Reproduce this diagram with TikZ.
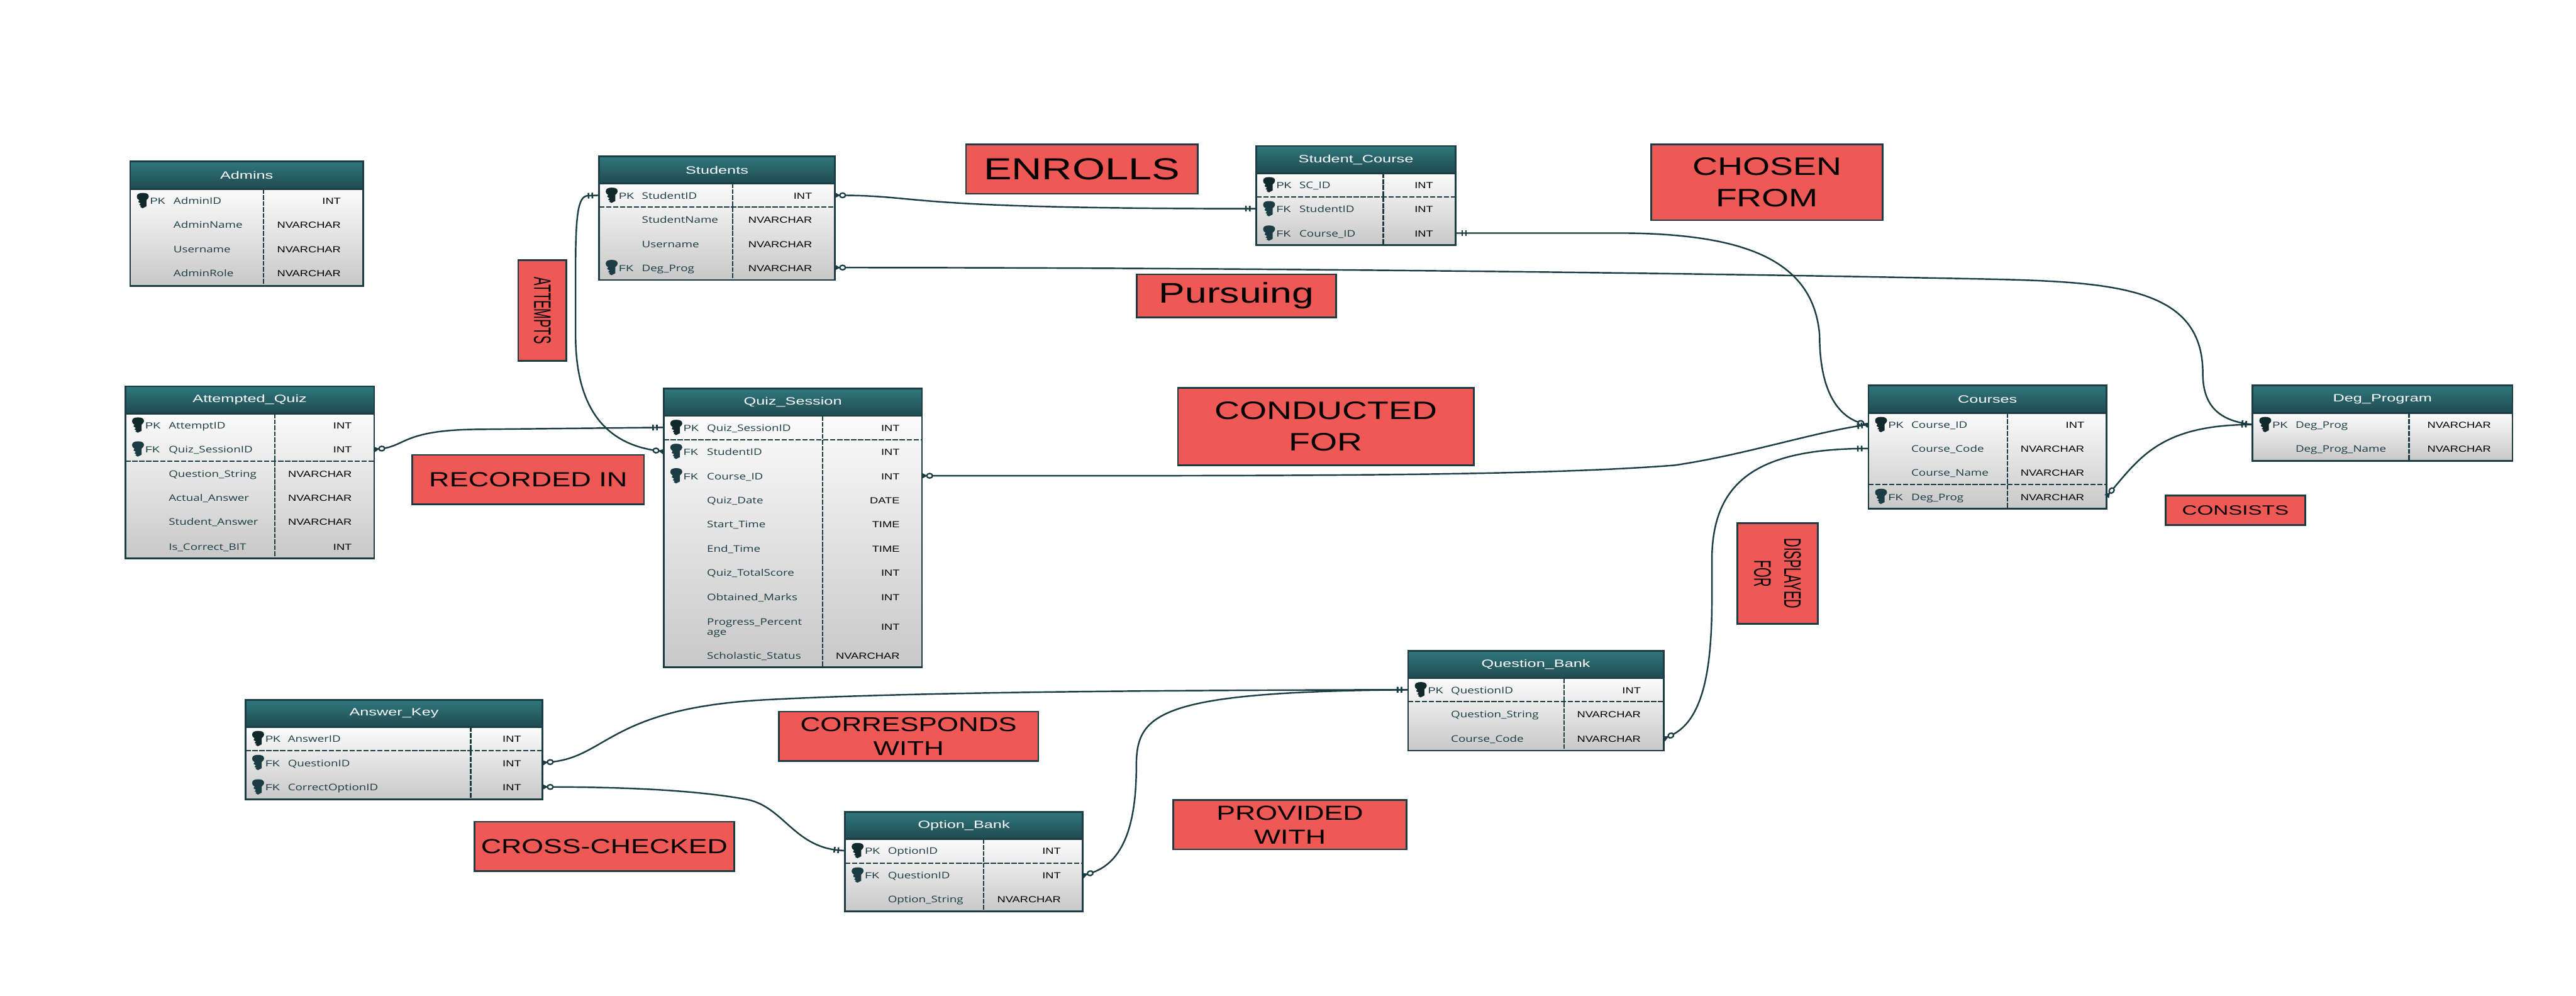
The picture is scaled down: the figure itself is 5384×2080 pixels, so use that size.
\documentclass[tikz,border=0pt]{standalone}
\usepackage{fontspec}
\setmainfont[FakeStretch=1.3]{Liberation Sans}
\newfontfamily\namefont[FakeStretch=1.3]{Open Sans}
\newfontfamily\titlefont[FakeStretch=1.5]{Liberation Sans}
\newfontfamily\wordfont[FakeStretch=1.38]{Liberation Sans}
\newfontfamily\widefont[FakeStretch=1.55]{Liberation Sans}
\newfontfamily\thinfont[FakeStretch=0.53]{Liberation Sans}
\usetikzlibrary{decorations.markings}

\definecolor{headtop}{HTML}{2F777D}
\definecolor{headbot}{HTML}{1F4A50}
\definecolor{bodytop}{HTML}{FBFBFB}
\definecolor{bodybot}{HTML}{C8C8C8}
\definecolor{linecol}{HTML}{1A3C42}
\definecolor{keydark}{HTML}{11292D}
\definecolor{relred}{HTML}{EE5855}

\tikzset{
  headbar/.style={top color=headtop, bottom color=headbot},
  bodybar/.style={top color=bodytop, bottom color=bodybot},
  frameline/.style={draw=linecol, line width=0.035cm},
  coldiv/.style={draw=linecol, line width=0.03cm, dash pattern=on 0.1cm off 0.025cm},
  keyrule/.style={draw=linecol, line width=0.025cm, dash pattern=on 0.11cm off 0.035cm},
  tabletitle/.style={font=\titlefont\fontsize{6.3}{7}\selectfont, text=white, inner sep=0pt},
  fieldname/.style={anchor=west, inner sep=0pt, text height=0.16cm, text depth=0cm,
    text=linecol, font=\namefont\fontsize{5.4}{6}\selectfont},
  fieldtype/.style={anchor=east, inner sep=0pt, text height=0.16cm, text depth=0cm,
    text=black, font=\fontsize{5.26}{6}\selectfont},
  keytag/.style={anchor=west, inner sep=0pt, text height=0.16cm, text depth=0cm,
    text=linecol, font=\fontsize{5.26}{6}\selectfont},
  keyPK/.style={fill=keydark},
  keyFK/.style={fill=linecol},
  relbox/.style={rectangle, draw=linecol, line width=0.035cm, fill=relred, text=black,
    inner sep=0pt, align=center},
  relline/.style={draw=linecol, line width=0.032cm, postaction={decorate},
    decoration={markings,
      mark=at position 0.16cm with {
        \fill[linecol] (-16,-6) -- (-5,0) -- (-16,6) -- cycle;
        \draw[linecol, line width=0.03cm, fill=white] (0,0) ellipse (6 and 4.8);},
      mark=at position -0.22cm with {\fill[linecol] (-1.7,-6) rectangle (1.7,6);},
      mark=at position -0.14cm with {\fill[linecol] (-1.7,-6) rectangle (1.7,6);}}},
}

\newcommand{\entity}[8]{%
  \def\tblL{#2}\def\tblR{#4}%
  \shade[headbar] (#2,#3) rectangle (#4,#6);
  \shade[bodybar] (#2,#6) rectangle (#4,#5);
  \node [tabletitle] (#1) at ({(#2+#4)/2},{(#3+#6)/2}) {#8};
  \draw [coldiv] (#7,#6) -- (#7,#5);
  \draw [frameline] (#2,#3) rectangle (#4,#5);
  \draw [frameline] (#2,#6) -- (#4,#6);
}
\newcommand{\fieldcols}[2]{%
  \pgfmathsetlengthmacro{\tblNin}{(#1-\tblL)*0.01cm}%
  \pgfmathsetlengthmacro{\tblTin}{(\tblR-#2)*0.01cm}%
}
\newcommand{\fieldrow}[4]{%
  \node [fieldname] (#1-name) at (\tblL,#2) {\hspace*{\tblNin}#3};
  \node [fieldtype] (#1-type) at (\tblR,#2) {#4\hspace*{\tblTin}};
}
\newcommand{\keyfield}[5]{%
  \fill [key#3, shift={({\tblL+14},#2)}] (5,-1) .. controls (1,-3) and (0,-6) .. (0,-8)
    .. controls (0,-14) and (5,-16) .. (12.5,-16) .. controls (20,-16) and (25,-14) .. (25,-8)
    .. controls (25,-5) and (22,-3) .. (20,-1) -- (20,12) -- (12,16) -- (7,13) -- (9,11)
    -- (5,9) -- (8,6) -- (3,3) -- cycle;
  \node [keytag] (#1-tag) at ({\tblL+41},#2) {#3};
  \fieldrow{#1}{#2}{#4}{#5}
}
\newcommand{\rowrule}[1]{\draw [keyrule] (\tblL,#1) -- (\tblR,#1);}

\begin{document}
\begin{tikzpicture}[x=0.01cm,y=-0.01cm]
\path [use as bounding box, fill=white] (0,0) rectangle (5384,2080);

\entity{admins}{272}{337}{759}{597}{395}{551}{Admins}
\fieldcols{362}{713}
\keyfield{admins-id}{419}{PK}{AdminID}{INT}
\fieldrow{admins-name}{469}{AdminName}{NVARCHAR}
\fieldrow{admins-user}{520}{Username}{NVARCHAR}
\fieldrow{admins-role}{570}{AdminRole}{NVARCHAR}

\entity{students}{1252}{327}{1745}{585}{383}{1531}{Students}
\fieldcols{1341}{1698}
\keyfield{students-id}{408}{PK}{StudentID}{INT}
\rowrule{433}
\fieldrow{students-name}{458}{StudentName}{NVARCHAR}
\fieldrow{students-user}{509}{Username}{NVARCHAR}
\keyfield{students-deg}{559}{FK}{Deg\_Prog}{NVARCHAR}

\entity{stucourse}{2626}{305}{3042}{512}{362}{2891}{Student\_Course}
\fieldcols{2715}{2996}
\keyfield{stucourse-id}{386}{PK}{SC\_ID}{INT}
\rowrule{411}
\keyfield{stucourse-student}{436}{FK}{StudentID}{INT}
\keyfield{stucourse-course}{487}{FK}{Course\_ID}{INT}

\entity{attempted}{262}{807}{782}{1167}{864}{574}{Attempted\_Quiz}
\fieldcols{352}{736}
\keyfield{attempted-id}{888}{PK}{AttemptID}{INT}
\keyfield{attempted-session}{938}{FK}{Quiz\_SessionID}{INT}
\rowrule{964}
\fieldrow{attempted-string}{989}{Question\_String}{NVARCHAR}
\fieldrow{attempted-actual}{1039}{Actual\_Answer}{NVARCHAR}
\fieldrow{attempted-student}{1089}{Student\_Answer}{NVARCHAR}
\fieldrow{attempted-correct}{1141}{Is\_Correct\_BIT}{INT}

\entity{quiz}{1387}{812}{1927}{1394}{869}{1719}{Quiz\_Session}
\fieldcols{1477}{1881}
\keyfield{quiz-id}{893}{PK}{Quiz\_SessionID}{INT}
\rowrule{919}
\keyfield{quiz-student}{943}{FK}{StudentID}{INT}
\keyfield{quiz-course}{994}{FK}{Course\_ID}{INT}
\fieldrow{quiz-date}{1044}{Quiz\_Date}{DATE}
\fieldrow{quiz-start}{1094}{Start\_Time}{TIME}
\fieldrow{quiz-end}{1145}{End\_Time}{TIME}
\fieldrow{quiz-total}{1196}{Quiz\_TotalScore}{INT}
\fieldrow{quiz-marks}{1246}{Obtained\_Marks}{INT}
\fieldrow{quiz-progress}{1308}{\begin{tabular}[c]{@{}l@{}}Progress\_Percent\\age\end{tabular}}{INT}
\fieldrow{quiz-status}{1369}{Scholastic\_Status}{NVARCHAR}

\entity{courses}{3905}{805}{4403}{1063}{863}{4196}{Courses}
\fieldcols{3994}{4357}
\keyfield{courses-id}{887}{PK}{Course\_ID}{INT}
\fieldrow{courses-code}{937}{Course\_Code}{NVARCHAR}
\fieldrow{courses-name}{987}{Course\_Name}{NVARCHAR}
\rowrule{1012}
\keyfield{courses-deg}{1037}{FK}{Deg\_Prog}{NVARCHAR}

\entity{degprog}{4708}{805}{5251}{963}{863}{5035}{Deg\_Program}
\fieldcols{4797}{5207}
\keyfield{degprog-id}{887}{PK}{Deg\_Prog}{NVARCHAR}
\fieldrow{degprog-name}{937}{Deg\_Prog\_Name}{NVARCHAR}

\entity{answer}{513}{1462}{1134}{1670}{1519}{984}{Answer\_Key}
\fieldcols{601}{1090}
\keyfield{answer-id}{1543}{PK}{AnswerID}{INT}
\rowrule{1568}
\keyfield{answer-question}{1593}{FK}{QuestionID}{INT}
\keyfield{answer-option}{1644}{FK}{CorrectOptionID}{INT}

\entity{question}{2943}{1360}{3477}{1568}{1417}{3269}{Question\_Bank}
\fieldcols{3032}{3430}
\keyfield{question-id}{1441}{PK}{QuestionID}{INT}
\rowrule{1466}
\fieldrow{question-string}{1491}{Question\_String}{NVARCHAR}
\fieldrow{question-code}{1542}{Course\_Code}{NVARCHAR}

\entity{option}{1766}{1696}{2263}{1904}{1753}{2056}{Option\_Bank}
\fieldcols{1855}{2218}
\keyfield{option-id}{1777}{PK}{OptionID}{INT}
\rowrule{1803}
\keyfield{option-question}{1828}{FK}{QuestionID}{INT}
\fieldrow{option-string}{1878}{Option\_String}{NVARCHAR}

\node [relbox, minimum width=4.84cm, minimum height=1.03cm, font=\wordfont\fontsize{18.1}{20}\selectfont] (enrolls) at (2261,353.5) {ENROLLS};
\node [relbox, minimum width=4.84cm, minimum height=1.58cm, font=\wordfont\fontsize{15}{18.5}\selectfont] (chosen) at (3693,381) {CHOSEN\\FROM};
\node [relbox, minimum width=4.16cm, minimum height=0.90cm, font=\wordfont\fontsize{16.9}{18}\selectfont] (pursuing) at (2584,618) {Pursuing};
\node [relbox, minimum width=6.18cm, minimum height=1.62cm, font=\wordfont\fontsize{15}{18.5}\selectfont] (conducted) at (2771,891) {CONDUCTED\\FOR};
\node [relbox, minimum width=4.84cm, minimum height=1.03cm, font=\wordfont\fontsize{12.2}{14.2}\selectfont] (recorded) at (1104,1002) {RECORDED IN};
\node [relbox, minimum width=5.42cm, minimum height=1.03cm, font=\wordfont\fontsize{11.9}{14.2}\selectfont] (corresponds) at (1899,1538) {CORRESPONDS\\WITH};
\node [relbox, minimum width=5.43cm, minimum height=1.03cm, font=\wordfont\fontsize{12.1}{14.2}\selectfont] (crosschecked) at (1263,1768) {CROSS-CHECKED};
\node [relbox, minimum width=4.88cm, minimum height=1.03cm, font=\wordfont\fontsize{12.1}{14.2}\selectfont] (provided) at (2696,1723) {PROVIDED\\WITH};
\node [relbox, minimum width=2.92cm, minimum height=0.61cm, font=\widefont\fontsize{8}{9}\selectfont] (consists) at (4672,1066) {CONSISTS};
\node [relbox, rotate=-90, minimum width=2.10cm, minimum height=1.01cm, font=\thinfont\fontsize{14.2}{15}\selectfont] (attempts) at (1133.5,649) {ATTEMPTS};
\node [relbox, rotate=-90, minimum width=2.10cm, minimum height=1.68cm, font=\thinfont\fontsize{14.2}{17.9}\selectfont] (displayed) at (3715,1198) {DISPLAYED\\FOR};

\draw [relline] (students-id-type.east) .. controls +(200,0) and (1850,436) .. (stucourse-student-name.west);
\draw [relline] (courses-id-name.west) .. controls (3850,880) and (3803,830) .. (3803,700)
  .. controls (3790,540) and (3640,490) .. (3400,487) -- (stucourse-course-type.east);
\draw [relline] (quiz-course-type.east) .. controls (2700,994) and (3200,995) .. (3500,972)
  .. controls (3650,950) and (3800,900) .. (courses-id-name.west);
\draw [relline] (students-deg-type.east) .. controls (2600,559) and (3500,570) .. (4100,582)
  .. controls (4400,588) and (4604,590) .. (4604,780) .. controls (4604,850) and (4640,880) .. (degprog-id-name.west);
\draw [relline] (courses-deg-type.east) .. controls (4470,960) and (4510,887) .. (degprog-id-name.west);
\draw [relline] (attempted-session-type.east) .. controls (850,938) and (830,898) .. (1000,897) -- (quiz-id-name.west);
\draw [relline] (quiz-student-name.west) .. controls (1290,935) and (1203,880) .. (1203,700)
  -- (1203,560) .. controls (1203,450) and (1208,410) .. (1228,409) -- (students-id-name.west);
\draw [relline] (answer-question-type.east) .. controls (1270,1590) and (1260,1480) .. (1600,1462)
  .. controls (1900,1446) and (2400,1442) .. (question-id-name.west);
\draw [relline] (answer-option-type.east) .. controls (1300,1644) and (1450,1650) .. (1560,1670)
  .. controls (1640,1685) and (1660,1775) .. (option-id-name.west);
\draw [relline] (question-code-type.east) .. controls (3560,1520) and (3578,1400) .. (3578,1250)
  -- (3578,1170) .. controls (3578,1000) and (3680,937) .. (courses-code-name.west);
\draw [relline] (option-question-type.east) .. controls (2340,1815) and (2375,1740) .. (2375,1600)
  .. controls (2375,1490) and (2420,1445) .. (question-id-name.west);
\end{tikzpicture}
\end{document}
